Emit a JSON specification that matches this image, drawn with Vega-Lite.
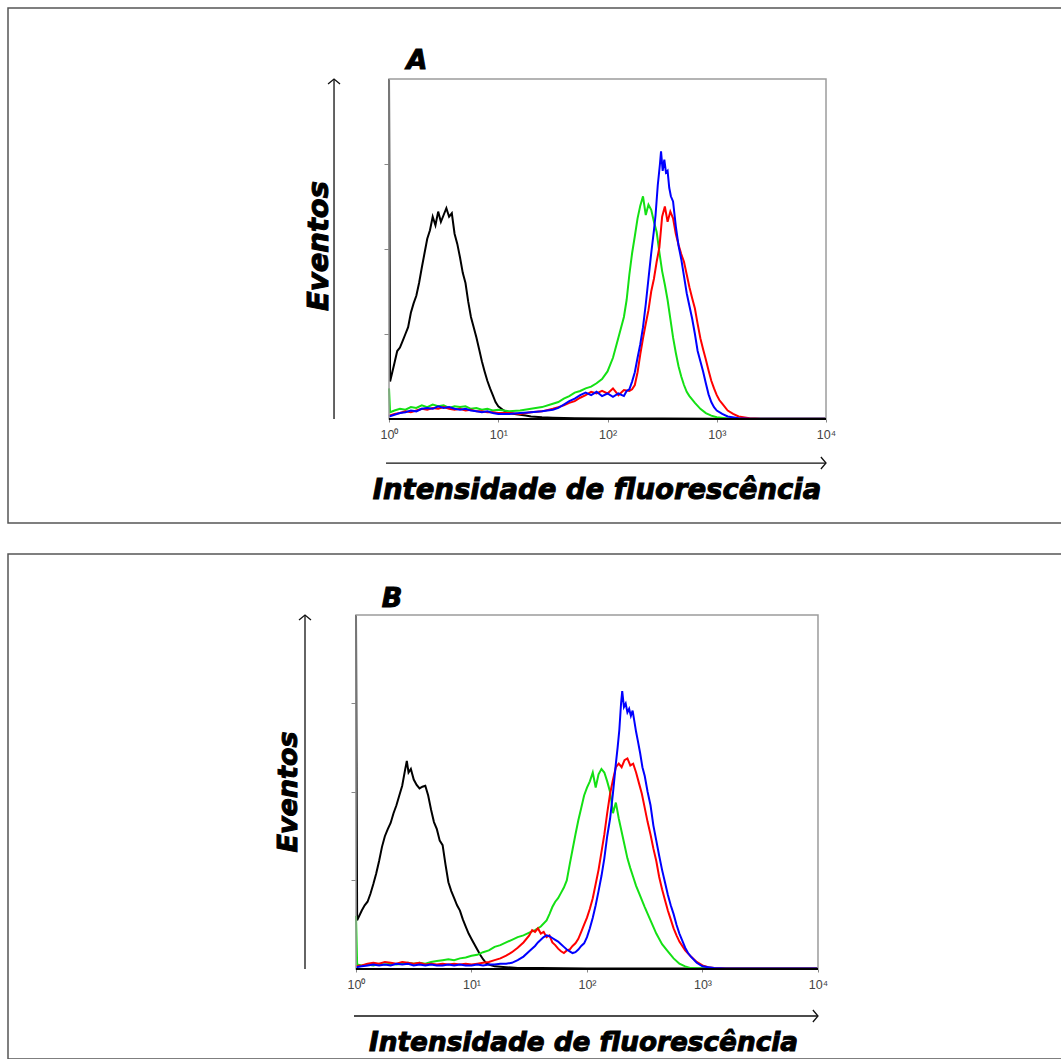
{
"$schema":"https://vega.github.io/schema/vega-lite/v6.json",
"background":"white",
"padding":{"left":7,"top":7,"right":0,"bottom":0},
"spacing":29,
"config":{"view":{"stroke":"#555555","strokeWidth":1.5}},
"datasets":{
"A":[
{"s":"k","x":1,"y":400},{"s":"k","x":1.023,"y":44},{"s":"k","x":1.122,"y":66},{"s":"k","x":1.189,"y":80},{"s":"k","x":1.259,"y":84},{"s":"k","x":1.334,"y":92},{"s":"k","x":1.413,"y":100},{"s":"k","x":1.496,"y":108},{"s":"k","x":1.585,"y":125},{"s":"k","x":1.679,"y":136},{"s":"k","x":1.778,"y":145},{"s":"k","x":1.884,"y":160},{"s":"k","x":1.995,"y":178},{"s":"k","x":2.113,"y":195},{"s":"k","x":2.239,"y":212},{"s":"k","x":2.371,"y":222},{"s":"k","x":2.512,"y":238},{"s":"k","x":2.661,"y":228},{"s":"k","x":2.818,"y":244},{"s":"k","x":2.985,"y":232},{"s":"k","x":3.162,"y":240},{"s":"k","x":3.35,"y":248},{"s":"k","x":3.548,"y":238},{"s":"k","x":3.758,"y":242},{"s":"k","x":3.981,"y":218},{"s":"k","x":4.217,"y":206},{"s":"k","x":4.467,"y":190},{"s":"k","x":4.732,"y":172},{"s":"k","x":5.012,"y":160},{"s":"k","x":5.309,"y":138},{"s":"k","x":5.623,"y":120},{"s":"k","x":5.957,"y":108},{"s":"k","x":6.31,"y":96},{"s":"k","x":6.683,"y":82},{"s":"k","x":7.079,"y":68},{"s":"k","x":7.499,"y":56},{"s":"k","x":7.943,"y":45},{"s":"k","x":8.414,"y":36},{"s":"k","x":8.913,"y":28},{"s":"k","x":9.441,"y":20},{"s":"k","x":10,"y":15},{"s":"k","x":11.22,"y":10},{"s":"k","x":12.59,"y":7},{"s":"k","x":14.13,"y":6},{"s":"k","x":15.85,"y":5},{"s":"k","x":17.78,"y":4},{"s":"k","x":19.95,"y":3},{"s":"k","x":25.12,"y":2},{"s":"k","x":31.62,"y":1.5},{"s":"k","x":50.12,"y":1},{"s":"k","x":100,"y":0.5},{"s":"k","x":316.2,"y":0.5},{"s":"k","x":1000,"y":0.3},{"s":"k","x":10000,"y":0.3},
{"s":"g","x":1,"y":36},{"s":"g","x":1.023,"y":8},{"s":"g","x":1.122,"y":10},{"s":"g","x":1.259,"y":12},{"s":"g","x":1.413,"y":11},{"s":"g","x":1.585,"y":14},{"s":"g","x":1.778,"y":13},{"s":"g","x":1.995,"y":16},{"s":"g","x":2.239,"y":14},{"s":"g","x":2.512,"y":17},{"s":"g","x":2.818,"y":15},{"s":"g","x":3.162,"y":16},{"s":"g","x":3.548,"y":13},{"s":"g","x":3.981,"y":15},{"s":"g","x":4.467,"y":14},{"s":"g","x":5.012,"y":15},{"s":"g","x":5.623,"y":12},{"s":"g","x":6.31,"y":13},{"s":"g","x":7.079,"y":11},{"s":"g","x":7.943,"y":12},{"s":"g","x":8.913,"y":10},{"s":"g","x":10,"y":11},{"s":"g","x":12.59,"y":9},{"s":"g","x":15.85,"y":10},{"s":"g","x":19.95,"y":12},{"s":"g","x":25.12,"y":14},{"s":"g","x":31.62,"y":18},{"s":"g","x":35.48,"y":20},{"s":"g","x":39.81,"y":24},{"s":"g","x":44.67,"y":27},{"s":"g","x":50.12,"y":31},{"s":"g","x":56.23,"y":33},{"s":"g","x":63.1,"y":36},{"s":"g","x":70.79,"y":38},{"s":"g","x":79.43,"y":42},{"s":"g","x":89.13,"y":47},{"s":"g","x":100,"y":56},{"s":"g","x":112.2,"y":72},{"s":"g","x":125.9,"y":96},{"s":"g","x":133.4,"y":108},{"s":"g","x":141.3,"y":120},{"s":"g","x":149.6,"y":140},{"s":"g","x":158.5,"y":170},{"s":"g","x":167.9,"y":195},{"s":"g","x":177.8,"y":215},{"s":"g","x":188.4,"y":236},{"s":"g","x":199.5,"y":251},{"s":"g","x":211.3,"y":262},{"s":"g","x":223.9,"y":240},{"s":"g","x":237.1,"y":252},{"s":"g","x":251.2,"y":246},{"s":"g","x":266.1,"y":232},{"s":"g","x":281.8,"y":220},{"s":"g","x":298.5,"y":196},{"s":"g","x":316.2,"y":174},{"s":"g","x":335,"y":158},{"s":"g","x":354.8,"y":140},{"s":"g","x":375.8,"y":118},{"s":"g","x":398.1,"y":96},{"s":"g","x":421.7,"y":78},{"s":"g","x":446.7,"y":62},{"s":"g","x":473.2,"y":50},{"s":"g","x":501.2,"y":40},{"s":"g","x":530.9,"y":32},{"s":"g","x":562.3,"y":27},{"s":"g","x":631,"y":19},{"s":"g","x":707.9,"y":12},{"s":"g","x":794.3,"y":7},{"s":"g","x":891.3,"y":4},{"s":"g","x":1000,"y":2},{"s":"g","x":1259,"y":0.6},{"s":"g","x":1585,"y":0.3},{"s":"g","x":10000,"y":0.3},
{"s":"r","x":1,"y":4},{"s":"r","x":1.122,"y":6},{"s":"r","x":1.259,"y":7},{"s":"r","x":1.413,"y":9},{"s":"r","x":1.585,"y":8},{"s":"r","x":1.778,"y":10},{"s":"r","x":1.995,"y":12},{"s":"r","x":2.239,"y":11},{"s":"r","x":2.512,"y":13},{"s":"r","x":2.818,"y":12},{"s":"r","x":3.162,"y":14},{"s":"r","x":3.548,"y":12},{"s":"r","x":3.981,"y":11},{"s":"r","x":4.467,"y":12},{"s":"r","x":5.012,"y":10},{"s":"r","x":5.623,"y":11},{"s":"r","x":6.31,"y":9},{"s":"r","x":7.079,"y":9},{"s":"r","x":7.943,"y":8},{"s":"r","x":8.913,"y":8},{"s":"r","x":10,"y":7},{"s":"r","x":12.59,"y":7},{"s":"r","x":15.85,"y":6},{"s":"r","x":19.95,"y":8},{"s":"r","x":25.12,"y":9},{"s":"r","x":31.62,"y":12},{"s":"r","x":35.48,"y":14},{"s":"r","x":39.81,"y":16},{"s":"r","x":44.67,"y":19},{"s":"r","x":50.12,"y":21},{"s":"r","x":56.23,"y":25},{"s":"r","x":63.1,"y":28},{"s":"r","x":70.79,"y":32},{"s":"r","x":79.43,"y":30},{"s":"r","x":89.13,"y":33},{"s":"r","x":100,"y":30},{"s":"r","x":112.2,"y":36},{"s":"r","x":125.9,"y":28},{"s":"r","x":141.3,"y":34},{"s":"r","x":158.5,"y":33},{"s":"r","x":167.9,"y":35},{"s":"r","x":177.8,"y":40},{"s":"r","x":188.4,"y":55},{"s":"r","x":199.5,"y":76},{"s":"r","x":211.3,"y":95},{"s":"r","x":223.9,"y":112},{"s":"r","x":237.1,"y":128},{"s":"r","x":251.2,"y":150},{"s":"r","x":266.1,"y":165},{"s":"r","x":281.8,"y":185},{"s":"r","x":298.5,"y":202},{"s":"r","x":316.2,"y":238},{"s":"r","x":335,"y":250},{"s":"r","x":354.8,"y":232},{"s":"r","x":375.8,"y":244},{"s":"r","x":398.1,"y":236},{"s":"r","x":421.7,"y":218},{"s":"r","x":446.7,"y":205},{"s":"r","x":473.2,"y":194},{"s":"r","x":501.2,"y":185},{"s":"r","x":530.9,"y":170},{"s":"r","x":562.3,"y":155},{"s":"r","x":595.7,"y":142},{"s":"r","x":631,"y":130},{"s":"r","x":668.3,"y":112},{"s":"r","x":707.9,"y":95},{"s":"r","x":749.9,"y":82},{"s":"r","x":794.3,"y":70},{"s":"r","x":841.4,"y":57},{"s":"r","x":891.3,"y":45},{"s":"r","x":944.1,"y":36},{"s":"r","x":1000,"y":28},{"s":"r","x":1059,"y":22},{"s":"r","x":1122,"y":18},{"s":"r","x":1259,"y":10},{"s":"r","x":1413,"y":6},{"s":"r","x":1585,"y":3},{"s":"r","x":1995,"y":1},{"s":"r","x":2512,"y":0.3},{"s":"r","x":10000,"y":0.3},
{"s":"b","x":1,"y":3},{"s":"b","x":1.122,"y":5},{"s":"b","x":1.259,"y":7},{"s":"b","x":1.413,"y":8},{"s":"b","x":1.585,"y":10},{"s":"b","x":1.778,"y":9},{"s":"b","x":1.995,"y":12},{"s":"b","x":2.239,"y":13},{"s":"b","x":2.512,"y":12},{"s":"b","x":2.818,"y":15},{"s":"b","x":3.162,"y":13},{"s":"b","x":3.548,"y":14},{"s":"b","x":3.981,"y":12},{"s":"b","x":4.467,"y":11},{"s":"b","x":5.012,"y":12},{"s":"b","x":5.623,"y":10},{"s":"b","x":6.31,"y":9},{"s":"b","x":7.079,"y":8},{"s":"b","x":7.943,"y":9},{"s":"b","x":8.913,"y":7},{"s":"b","x":10,"y":6},{"s":"b","x":12.59,"y":6},{"s":"b","x":15.85,"y":7},{"s":"b","x":19.95,"y":8},{"s":"b","x":25.12,"y":9},{"s":"b","x":31.62,"y":11},{"s":"b","x":35.48,"y":13},{"s":"b","x":39.81,"y":17},{"s":"b","x":44.67,"y":21},{"s":"b","x":50.12,"y":24},{"s":"b","x":56.23,"y":28},{"s":"b","x":63.1,"y":31},{"s":"b","x":70.79,"y":28},{"s":"b","x":79.43,"y":32},{"s":"b","x":89.13,"y":27},{"s":"b","x":100,"y":30},{"s":"b","x":112.2,"y":26},{"s":"b","x":125.9,"y":30},{"s":"b","x":141.3,"y":27},{"s":"b","x":149.6,"y":33},{"s":"b","x":158.5,"y":35},{"s":"b","x":167.9,"y":44},{"s":"b","x":177.8,"y":55},{"s":"b","x":188.4,"y":72},{"s":"b","x":199.5,"y":88},{"s":"b","x":211.3,"y":108},{"s":"b","x":223.9,"y":135},{"s":"b","x":237.1,"y":165},{"s":"b","x":251.2,"y":195},{"s":"b","x":266.1,"y":222},{"s":"b","x":275.4,"y":240},{"s":"b","x":288.4,"y":275},{"s":"b","x":302,"y":300},{"s":"b","x":309,"y":315},{"s":"b","x":319.9,"y":292},{"s":"b","x":331.1,"y":305},{"s":"b","x":342.8,"y":290},{"s":"b","x":354.8,"y":292},{"s":"b","x":367.3,"y":272},{"s":"b","x":380.2,"y":262},{"s":"b","x":398.1,"y":256},{"s":"b","x":421.7,"y":227},{"s":"b","x":446.7,"y":204},{"s":"b","x":473.2,"y":188},{"s":"b","x":501.2,"y":168},{"s":"b","x":530.9,"y":148},{"s":"b","x":562.3,"y":133},{"s":"b","x":595.7,"y":118},{"s":"b","x":631,"y":100},{"s":"b","x":668.3,"y":80},{"s":"b","x":707.9,"y":68},{"s":"b","x":749.9,"y":56},{"s":"b","x":794.3,"y":42},{"s":"b","x":841.4,"y":29},{"s":"b","x":891.3,"y":20},{"s":"b","x":944.1,"y":14},{"s":"b","x":1000,"y":10},{"s":"b","x":1122,"y":6},{"s":"b","x":1259,"y":3},{"s":"b","x":1585,"y":1},{"s":"b","x":1995,"y":0.3},{"s":"b","x":10000,"y":0.3}
],
"B":[
{"s":"k","x":1,"y":400},{"s":"k","x":1.023,"y":55},{"s":"k","x":1.122,"y":66},{"s":"k","x":1.189,"y":72},{"s":"k","x":1.259,"y":76},{"s":"k","x":1.334,"y":85},{"s":"k","x":1.413,"y":96},{"s":"k","x":1.496,"y":108},{"s":"k","x":1.585,"y":122},{"s":"k","x":1.679,"y":138},{"s":"k","x":1.778,"y":150},{"s":"k","x":1.884,"y":158},{"s":"k","x":1.995,"y":165},{"s":"k","x":2.113,"y":176},{"s":"k","x":2.239,"y":185},{"s":"k","x":2.371,"y":196},{"s":"k","x":2.512,"y":207},{"s":"k","x":2.661,"y":225},{"s":"k","x":2.754,"y":235},{"s":"k","x":2.851,"y":222},{"s":"k","x":2.985,"y":226},{"s":"k","x":3.162,"y":214},{"s":"k","x":3.35,"y":208},{"s":"k","x":3.548,"y":204},{"s":"k","x":3.758,"y":206},{"s":"k","x":3.981,"y":207},{"s":"k","x":4.217,"y":196},{"s":"k","x":4.467,"y":180},{"s":"k","x":4.732,"y":166},{"s":"k","x":5.012,"y":158},{"s":"k","x":5.309,"y":145},{"s":"k","x":5.623,"y":140},{"s":"k","x":5.957,"y":118},{"s":"k","x":6.31,"y":98},{"s":"k","x":6.683,"y":88},{"s":"k","x":7.079,"y":80},{"s":"k","x":7.499,"y":72},{"s":"k","x":7.943,"y":66},{"s":"k","x":8.414,"y":56},{"s":"k","x":8.913,"y":48},{"s":"k","x":9.441,"y":40},{"s":"k","x":10,"y":34},{"s":"k","x":10.59,"y":28},{"s":"k","x":11.22,"y":22},{"s":"k","x":11.89,"y":16},{"s":"k","x":12.59,"y":11},{"s":"k","x":13.34,"y":7},{"s":"k","x":14.13,"y":5},{"s":"k","x":15.85,"y":3},{"s":"k","x":19.95,"y":2},{"s":"k","x":25.12,"y":1},{"s":"k","x":39.81,"y":1},{"s":"k","x":100,"y":0.5},{"s":"k","x":10000,"y":0.5},
{"s":"g","x":1,"y":60},{"s":"g","x":1.023,"y":5},{"s":"g","x":1.122,"y":4},{"s":"g","x":1.259,"y":5},{"s":"g","x":1.413,"y":4},{"s":"g","x":1.585,"y":6},{"s":"g","x":1.778,"y":5},{"s":"g","x":1.995,"y":6},{"s":"g","x":2.239,"y":5},{"s":"g","x":2.512,"y":6},{"s":"g","x":2.818,"y":7},{"s":"g","x":3.162,"y":6},{"s":"g","x":3.548,"y":7},{"s":"g","x":3.981,"y":6},{"s":"g","x":4.467,"y":8},{"s":"g","x":5.012,"y":9},{"s":"g","x":5.623,"y":10},{"s":"g","x":6.31,"y":11},{"s":"g","x":7.079,"y":10},{"s":"g","x":7.943,"y":12},{"s":"g","x":8.913,"y":13},{"s":"g","x":10,"y":15},{"s":"g","x":11.22,"y":16},{"s":"g","x":12.59,"y":19},{"s":"g","x":14.13,"y":21},{"s":"g","x":15.85,"y":25},{"s":"g","x":17.78,"y":27},{"s":"g","x":19.95,"y":30},{"s":"g","x":22.39,"y":33},{"s":"g","x":25.12,"y":36},{"s":"g","x":28.18,"y":38},{"s":"g","x":31.62,"y":41},{"s":"g","x":35.48,"y":44},{"s":"g","x":39.81,"y":48},{"s":"g","x":44.67,"y":55},{"s":"g","x":47.32,"y":62},{"s":"g","x":50.12,"y":70},{"s":"g","x":53.09,"y":76},{"s":"g","x":56.23,"y":80},{"s":"g","x":59.57,"y":86},{"s":"g","x":63.1,"y":92},{"s":"g","x":66.83,"y":100},{"s":"g","x":70.79,"y":118},{"s":"g","x":74.99,"y":135},{"s":"g","x":79.43,"y":152},{"s":"g","x":84.14,"y":168},{"s":"g","x":89.13,"y":182},{"s":"g","x":94.41,"y":196},{"s":"g","x":100,"y":205},{"s":"g","x":105.9,"y":212},{"s":"g","x":112.2,"y":222},{"s":"g","x":118.9,"y":205},{"s":"g","x":125.9,"y":220},{"s":"g","x":133.4,"y":226},{"s":"g","x":141.3,"y":222},{"s":"g","x":149.6,"y":212},{"s":"g","x":158.5,"y":200},{"s":"g","x":167.9,"y":176},{"s":"g","x":177.8,"y":188},{"s":"g","x":188.4,"y":170},{"s":"g","x":199.5,"y":155},{"s":"g","x":211.3,"y":140},{"s":"g","x":223.9,"y":125},{"s":"g","x":237.1,"y":114},{"s":"g","x":251.2,"y":104},{"s":"g","x":266.1,"y":94},{"s":"g","x":281.8,"y":86},{"s":"g","x":316.2,"y":70},{"s":"g","x":354.8,"y":55},{"s":"g","x":398.1,"y":40},{"s":"g","x":446.7,"y":28},{"s":"g","x":501.2,"y":20},{"s":"g","x":562.3,"y":12},{"s":"g","x":631,"y":6},{"s":"g","x":707.9,"y":3},{"s":"g","x":794.3,"y":1},{"s":"g","x":1000,"y":0.5},{"s":"g","x":10000,"y":0.5},
{"s":"r","x":1,"y":3},{"s":"r","x":1.122,"y":4},{"s":"r","x":1.259,"y":6},{"s":"r","x":1.413,"y":7},{"s":"r","x":1.585,"y":6},{"s":"r","x":1.778,"y":8},{"s":"r","x":1.995,"y":7},{"s":"r","x":2.239,"y":6},{"s":"r","x":2.512,"y":8},{"s":"r","x":2.818,"y":7},{"s":"r","x":3.162,"y":6},{"s":"r","x":3.548,"y":7},{"s":"r","x":3.981,"y":5},{"s":"r","x":4.467,"y":6},{"s":"r","x":5.012,"y":5},{"s":"r","x":5.623,"y":6},{"s":"r","x":6.31,"y":5},{"s":"r","x":7.079,"y":6},{"s":"r","x":7.943,"y":5},{"s":"r","x":8.913,"y":6},{"s":"r","x":10,"y":5},{"s":"r","x":11.22,"y":6},{"s":"r","x":12.59,"y":7},{"s":"r","x":14.13,"y":8},{"s":"r","x":15.85,"y":10},{"s":"r","x":17.78,"y":12},{"s":"r","x":19.95,"y":15},{"s":"r","x":22.39,"y":19},{"s":"r","x":25.12,"y":24},{"s":"r","x":28.18,"y":30},{"s":"r","x":31.62,"y":38},{"s":"r","x":33.5,"y":44},{"s":"r","x":35.48,"y":42},{"s":"r","x":37.58,"y":46},{"s":"r","x":39.81,"y":40},{"s":"r","x":42.17,"y":42},{"s":"r","x":44.67,"y":36},{"s":"r","x":47.32,"y":38},{"s":"r","x":50.12,"y":30},{"s":"r","x":53.09,"y":27},{"s":"r","x":56.23,"y":23},{"s":"r","x":59.57,"y":20},{"s":"r","x":63.1,"y":18},{"s":"r","x":66.83,"y":21},{"s":"r","x":70.79,"y":22},{"s":"r","x":74.99,"y":26},{"s":"r","x":79.43,"y":29},{"s":"r","x":84.14,"y":34},{"s":"r","x":89.13,"y":42},{"s":"r","x":94.41,"y":50},{"s":"r","x":100,"y":58},{"s":"r","x":105.9,"y":68},{"s":"r","x":112.2,"y":80},{"s":"r","x":118.9,"y":96},{"s":"r","x":125.9,"y":112},{"s":"r","x":133.4,"y":132},{"s":"r","x":141.3,"y":152},{"s":"r","x":149.6,"y":176},{"s":"r","x":158.5,"y":198},{"s":"r","x":167.9,"y":214},{"s":"r","x":177.8,"y":228},{"s":"r","x":188.4,"y":232},{"s":"r","x":199.5,"y":228},{"s":"r","x":211.3,"y":236},{"s":"r","x":223.9,"y":238},{"s":"r","x":237.1,"y":230},{"s":"r","x":251.2,"y":232},{"s":"r","x":266.1,"y":222},{"s":"r","x":281.8,"y":210},{"s":"r","x":298.5,"y":198},{"s":"r","x":316.2,"y":182},{"s":"r","x":335,"y":166},{"s":"r","x":354.8,"y":152},{"s":"r","x":375.8,"y":136},{"s":"r","x":398.1,"y":122},{"s":"r","x":421.7,"y":104},{"s":"r","x":446.7,"y":90},{"s":"r","x":473.2,"y":78},{"s":"r","x":501.2,"y":66},{"s":"r","x":530.9,"y":56},{"s":"r","x":562.3,"y":46},{"s":"r","x":595.7,"y":38},{"s":"r","x":631,"y":31},{"s":"r","x":707.9,"y":21},{"s":"r","x":794.3,"y":14},{"s":"r","x":891.3,"y":8},{"s":"r","x":1000,"y":4},{"s":"r","x":1122,"y":2},{"s":"r","x":1259,"y":1},{"s":"r","x":1585,"y":0.5},{"s":"r","x":10000,"y":0.5},
{"s":"b","x":1,"y":2},{"s":"b","x":1.122,"y":3},{"s":"b","x":1.259,"y":4},{"s":"b","x":1.413,"y":5},{"s":"b","x":1.585,"y":4},{"s":"b","x":1.778,"y":5},{"s":"b","x":1.995,"y":4},{"s":"b","x":2.239,"y":6},{"s":"b","x":2.512,"y":5},{"s":"b","x":2.818,"y":6},{"s":"b","x":3.162,"y":4},{"s":"b","x":3.548,"y":5},{"s":"b","x":3.981,"y":4},{"s":"b","x":4.467,"y":5},{"s":"b","x":5.012,"y":4},{"s":"b","x":5.623,"y":4},{"s":"b","x":6.31,"y":5},{"s":"b","x":7.079,"y":4},{"s":"b","x":7.943,"y":5},{"s":"b","x":8.913,"y":4},{"s":"b","x":10,"y":4},{"s":"b","x":11.22,"y":5},{"s":"b","x":12.59,"y":4},{"s":"b","x":14.13,"y":5},{"s":"b","x":15.85,"y":5},{"s":"b","x":17.78,"y":6},{"s":"b","x":19.95,"y":6},{"s":"b","x":22.39,"y":7},{"s":"b","x":25.12,"y":10},{"s":"b","x":28.18,"y":14},{"s":"b","x":31.62,"y":20},{"s":"b","x":35.48,"y":26},{"s":"b","x":37.58,"y":30},{"s":"b","x":39.81,"y":33},{"s":"b","x":42.17,"y":36},{"s":"b","x":44.67,"y":38},{"s":"b","x":47.32,"y":37},{"s":"b","x":50.12,"y":35},{"s":"b","x":53.09,"y":33},{"s":"b","x":56.23,"y":31},{"s":"b","x":59.57,"y":28},{"s":"b","x":63.1,"y":25},{"s":"b","x":66.83,"y":22},{"s":"b","x":70.79,"y":20},{"s":"b","x":74.99,"y":18},{"s":"b","x":79.43,"y":19},{"s":"b","x":84.14,"y":22},{"s":"b","x":89.13,"y":26},{"s":"b","x":94.41,"y":29},{"s":"b","x":100,"y":36},{"s":"b","x":105.9,"y":46},{"s":"b","x":112.2,"y":58},{"s":"b","x":118.9,"y":72},{"s":"b","x":125.9,"y":88},{"s":"b","x":133.4,"y":105},{"s":"b","x":141.3,"y":125},{"s":"b","x":149.6,"y":150},{"s":"b","x":158.5,"y":170},{"s":"b","x":167.9,"y":199},{"s":"b","x":177.8,"y":232},{"s":"b","x":184.1,"y":250},{"s":"b","x":190.5,"y":270},{"s":"b","x":197.2,"y":300},{"s":"b","x":201.8,"y":314},{"s":"b","x":208.9,"y":296},{"s":"b","x":216.3,"y":300},{"s":"b","x":223.9,"y":290},{"s":"b","x":231.7,"y":294},{"s":"b","x":239.9,"y":286},{"s":"b","x":248.3,"y":292},{"s":"b","x":257,"y":280},{"s":"b","x":266.1,"y":268},{"s":"b","x":275.4,"y":258},{"s":"b","x":288.4,"y":244},{"s":"b","x":302,"y":228},{"s":"b","x":316.2,"y":218},{"s":"b","x":335,"y":200},{"s":"b","x":354.8,"y":185},{"s":"b","x":375.8,"y":162},{"s":"b","x":398.1,"y":145},{"s":"b","x":421.7,"y":128},{"s":"b","x":446.7,"y":112},{"s":"b","x":473.2,"y":98},{"s":"b","x":501.2,"y":84},{"s":"b","x":530.9,"y":72},{"s":"b","x":562.3,"y":62},{"s":"b","x":595.7,"y":50},{"s":"b","x":631,"y":40},{"s":"b","x":668.3,"y":32},{"s":"b","x":707.9,"y":24},{"s":"b","x":749.9,"y":18},{"s":"b","x":794.3,"y":14},{"s":"b","x":891.3,"y":7},{"s":"b","x":1000,"y":3},{"s":"b","x":1122,"y":2},{"s":"b","x":1259,"y":1},{"s":"b","x":1585,"y":0.5},{"s":"b","x":10000,"y":0.5}
]
},
"vconcat":[
{
"width":1054,"height":515,
"layer":[
{"data":{"name":"A"},"mark":{"type":"line","strokeWidth":2},
 "encoding":{
  "x":{"field":"x","type":"quantitative","scale":{"type":"log","domain":[0.0003254,1446000],"nice":false},
   "axis":{"orient":"bottom","offset":-104,"values":[1,10,100,1000,10000],"domain":false,"ticks":true,"tickSize":3,"tickColor":"#888888","grid":false,"labelPadding":6,"labelFontSize":12.5,"labelColor":"#444444","labelFont":"Liberation Sans","labelFlush":false,"labelOverlap":false,"title":null,"labelExpr":"'10' + ['⁰','¹','²','³','⁴'][round(log(datum.value)/LN10)]"}},
  "y":{"field":"y","type":"quantitative","scale":{"domain":[-122.35,483.53],"nice":false,"zero":false},
   "axis":{"orient":"left","offset":-381,"values":[100,200,300],"domain":false,"labels":false,"ticks":true,"tickSize":5,"tickColor":"#888888","grid":false,"title":null}},
  "color":{"field":"s","type":"nominal","scale":{"domain":["k","g","r","b"],"range":["#000000","#14e014","#ff0000","#0000ff"]},"legend":null}
 }},
{"data":{"values":[{}]},"mark":{"type":"rect","fillOpacity":0,"stroke":"#9c9c9c","strokeWidth":1.5},
 "encoding":{"x":{"datum":1,"type":"quantitative"},"x2":{"datum":10000},"y":{"datum":0,"type":"quantitative"},"y2":{"datum":400}}},
{"data":{"values":[{}]},"mark":{"type":"rule","color":"#000000","strokeWidth":2},
 "encoding":{"x":{"datum":1,"type":"quantitative"},"x2":{"datum":10000},"y":{"datum":0,"type":"quantitative"}}},
{"data":{"values":[{}]},"mark":{"type":"rule","color":"#111111","strokeWidth":1.3},
 "encoding":{"x":{"datum":0.939,"type":"quantitative"},"x2":{"datum":10000},"y":{"datum":-51.8,"type":"quantitative"}}},
{"data":{"values":[{}]},"mark":{"type":"rule","color":"#111111","strokeWidth":1.3},
 "encoding":{"x":{"datum":0.3138,"type":"quantitative"},"y":{"datum":0,"type":"quantitative"},"y2":{"datum":400}}},
{"data":{"values":[{}]},"mark":{"type":"point","shape":"M-0.85,-1L0,0L-0.85,1","size":144,"filled":false,"stroke":"#111111","strokeWidth":1.3,"opacity":1},
 "encoding":{"x":{"datum":10000,"type":"quantitative"},"y":{"datum":-51.8,"type":"quantitative"}}},
{"data":{"values":[{}]},"mark":{"type":"point","shape":"M-1,0.85L0,0L1,0.85","size":144,"filled":false,"stroke":"#111111","strokeWidth":1.3,"opacity":1},
 "encoding":{"x":{"datum":0.3138,"type":"quantitative"},"y":{"datum":400,"type":"quantitative"}}},
{"data":{"values":[{}]},"mark":{"type":"text","text":"Intensidade de fluorescência","font":"DejaVu Sans","fontSize":27.5,"fontWeight":"bold","fontStyle":"italic","align":"center","baseline":"middle","color":"#000000","stroke":"#000000","strokeWidth":1},
 "encoding":{"x":{"datum":80.15,"type":"quantitative"},"y":{"datum":-84.7,"type":"quantitative"}}},
{"data":{"values":[{}]},"mark":{"type":"text","text":"Eventos","font":"DejaVu Sans","fontSize":29,"fontWeight":"bold","fontStyle":"italic","align":"center","baseline":"middle","angle":270,"color":"#000000","stroke":"#000000","strokeWidth":1},
 "encoding":{"x":{"datum":0.228,"type":"quantitative"},"y":{"datum":203.5,"type":"quantitative"}}},
{"data":{"values":[{}]},"mark":{"type":"text","text":"A","font":"DejaVu Sans","fontSize":27,"fontWeight":"bold","fontStyle":"italic","align":"center","baseline":"middle","color":"#000000","stroke":"#000000","strokeWidth":1},
 "encoding":{"x":{"datum":1.804,"type":"quantitative"},"y":{"datum":421.2,"type":"quantitative"}}}
]
},
{
"width":1054,"height":505,
"layer":[
{"data":{"name":"B"},"mark":{"type":"line","strokeWidth":2},
 "encoding":{
  "x":{"field":"x","type":"quantitative","scale":{"type":"log","domain":[0.0009705,1296200],"nice":false},
   "axis":{"orient":"bottom","offset":-90,"values":[1,10,100,1000,10000],"domain":false,"ticks":true,"tickSize":3,"tickColor":"#888888","grid":false,"labelPadding":6,"labelFontSize":12.5,"labelColor":"#444444","labelFont":"Liberation Sans","labelFlush":false,"labelOverlap":false,"title":null,"labelExpr":"'10' + ['⁰','¹','²','³','⁴'][round(log(datum.value)/LN10)]"}},
  "y":{"field":"y","type":"quantitative","scale":{"domain":[-101.7,468.9],"nice":false,"zero":false},
   "axis":{"orient":"left","offset":-348,"values":[100,200,300],"domain":false,"labels":false,"ticks":true,"tickSize":5,"tickColor":"#888888","grid":false,"title":null}},
  "color":{"field":"s","type":"nominal","scale":{"domain":["k","g","r","b"],"range":["#000000","#14e014","#ff0000","#0000ff"]},"legend":null}
 }},
{"data":{"values":[{}]},"mark":{"type":"rect","fillOpacity":0,"stroke":"#9c9c9c","strokeWidth":1.5},
 "encoding":{"x":{"datum":1,"type":"quantitative"},"x2":{"datum":10000},"y":{"datum":0,"type":"quantitative"},"y2":{"datum":400}}},
{"data":{"values":[{}]},"mark":{"type":"rule","color":"#000000","strokeWidth":2},
 "encoding":{"x":{"datum":1,"type":"quantitative"},"x2":{"datum":10000},"y":{"datum":0,"type":"quantitative"}}},
{"data":{"values":[{}]},"mark":{"type":"rule","color":"#111111","strokeWidth":1.3},
 "encoding":{"x":{"datum":0.961,"type":"quantitative"},"x2":{"datum":10000},"y":{"datum":-53.1,"type":"quantitative"}}},
{"data":{"values":[{}]},"mark":{"type":"rule","color":"#111111","strokeWidth":1.3},
 "encoding":{"x":{"datum":0.3618,"type":"quantitative"},"y":{"datum":0,"type":"quantitative"},"y2":{"datum":400}}},
{"data":{"values":[{}]},"mark":{"type":"point","shape":"M-0.85,-1L0,0L-0.85,1","size":144,"filled":false,"stroke":"#111111","strokeWidth":1.3,"opacity":1},
 "encoding":{"x":{"datum":10000,"type":"quantitative"},"y":{"datum":-53.1,"type":"quantitative"}}},
{"data":{"values":[{}]},"mark":{"type":"point","shape":"M-1,0.85L0,0L1,0.85","size":144,"filled":false,"stroke":"#111111","strokeWidth":1.3,"opacity":1},
 "encoding":{"x":{"datum":0.3618,"type":"quantitative"},"y":{"datum":400,"type":"quantitative"}}},
{"data":{"values":[{}]},"mark":{"type":"text","text":"Intensidade de fluorescência","font":"DejaVu Sans","fontSize":26.3,"fontWeight":"bold","fontStyle":"italic","align":"center","baseline":"middle","color":"#000000","stroke":"#000000","strokeWidth":1},
 "encoding":{"x":{"datum":93.3,"type":"quantitative"},"y":{"datum":-83.6,"type":"quantitative"}}},
{"data":{"values":[{}]},"mark":{"type":"text","text":"Eventos","font":"DejaVu Sans","fontSize":27,"fontWeight":"bold","fontStyle":"italic","align":"center","baseline":"middle","angle":270,"color":"#000000","stroke":"#000000","strokeWidth":1},
 "encoding":{"x":{"datum":0.263,"type":"quantitative"},"y":{"datum":200,"type":"quantitative"}}},
{"data":{"values":[{}]},"mark":{"type":"text","text":"B","font":"DejaVu Sans","fontSize":27,"fontWeight":"bold","fontStyle":"italic","align":"center","baseline":"middle","color":"#000000","stroke":"#000000","strokeWidth":1},
 "encoding":{"x":{"datum":2.05,"type":"quantitative"},"y":{"datum":418,"type":"quantitative"}}}
]
}
]
}
